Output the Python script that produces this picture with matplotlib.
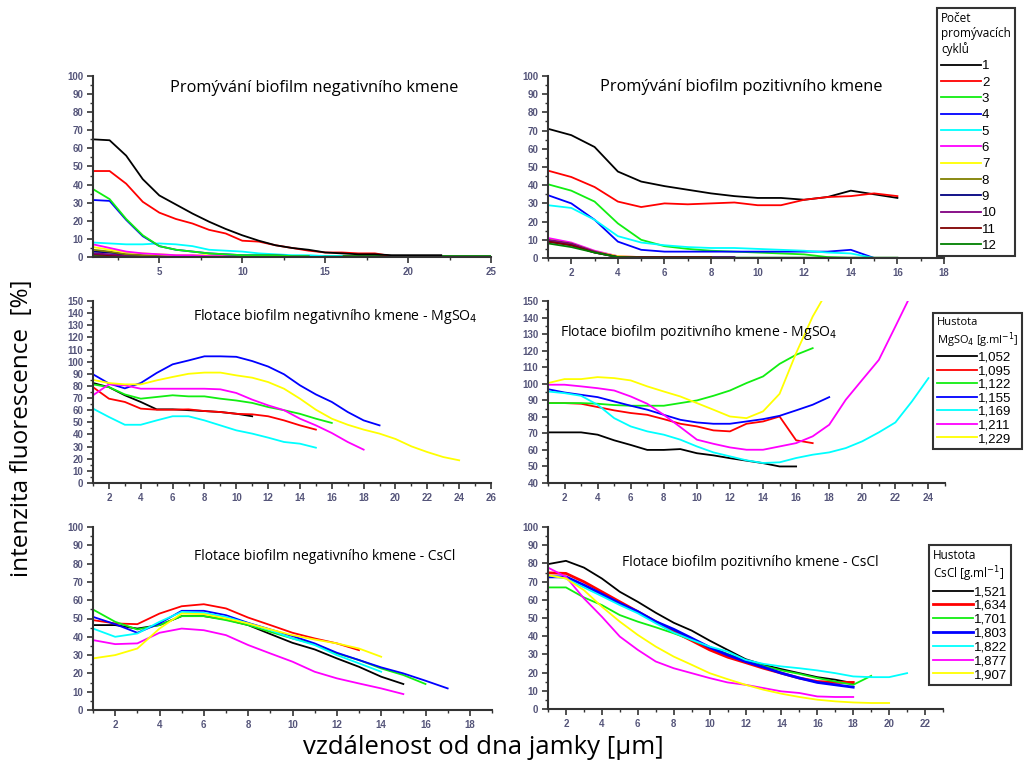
import matplotlib
matplotlib.use("Agg")
import matplotlib.pyplot as plt
from matplotlib.ticker import MultipleLocator

# ---------------- data ----------------
barvy_cykly = ['#000000', '#ff0000', '#11ee11', '#0000ff', '#00ffff', '#ff00ff',
               '#ffff00', '#808000', '#000080', '#800080', '#800000', '#008000']
cykly = ['1', '2', '3', '4', '5', '6', '7', '8', '9', '10', '11', '12']

# promyvani - negativni kmen (x = 1, 2, 3, ...)
neg_c1 = [65, 64.5, 56, 43, 34, 29, 24, 19.5, 15.5, 12, 9, 6.5, 5, 4, 2.5, 2, 1.5, 1.5, 1, 1, 1, 1]
neg_c2 = [47.5, 47.5, 40.5, 30.5, 24.5, 21, 18.5, 15, 13, 9, 8.5, 6.5, 5, 3.5, 2.5, 2.5, 2, 2, 0.5, 0.5]
neg_c3 = [37.5, 32, 21, 12, 6, 4, 3, 2, 1.5, 1, 1, 1, 0.5, 0.5]
neg_c4 = [31.5, 31, 20.5, 11.5, 6, 4, 3, 2, 1.5, 1, 1, 1, 0.5, 0.5]
neg_c5 = [8, 7.5, 7, 7, 7.5, 7, 6, 4, 3.5, 3, 2, 1.5, 1, 1, 0.5, 0.5]
neg_c6 = [7, 5, 3, 2, 1.5, 1, 1, 0.5, 0.5, 0.5, 0.5, 0.5, 0.5]
neg_c7 = [5.5, 4, 2.5, 2, 1.5, 1, 1, 1, 0.5, 0.5, 0.5, 0.5, 0.5, 0.5]
neg_c8 = [4, 3, 1.5, 1, 0.5, 0.5, 0.5, 0.5, 0.5, 0.5]
neg_c9 = [3, 2.5, 1.5, 1, 0.5, 0.5, 0.5, 0.5, 0.5, 0.5, 0.5, 0.5]
neg_c10 = [2, 1.5, 1, 0.5, 0.5, 0.5, 0.5, 0.5, 0.5, 0.5, 0.5, 0.5, 0.5, 0.5]
neg_c11 = [1.5, 1, 0.5, 0.3, 0.3, 0.3, 0.3, 0.3, 0.3, 0.3]
neg_c12 = [0.5, 0.5, 0.5, 0.5, 0.5, 0.5, 0.5, 0.5, 0.5, 0.5, 0.5, 0.5, 0.5, 0.5, 0.5, 0.5,
           0.5, 0.5, 0.5, 0.5, 0.5, 0.5, 0.5, 0.5, 0.5]

# promyvani - pozitivni kmen
pos_c1 = [71, 67.5, 61, 47.5, 42, 39.5, 37.5, 35.5, 34, 33, 33, 32, 33.5, 37, 35, 33]
pos_c2 = [48, 44.5, 39, 31, 28, 30, 29.5, 30, 30.5, 29, 29, 32, 33.5, 34, 35.5, 34]
pos_c3 = [40.5, 37, 31, 19, 10, 6.5, 5, 4, 3.5, 3, 2.5, 2, 0.5, 0, 0, 0]
pos_c4 = [34.5, 30, 21, 9, 4.5, 3.5, 3.5, 3.5, 3.5, 3.5, 3.5, 3.5, 3.5, 4.5, 0]
pos_c5 = [29, 27.5, 21, 12, 8.5, 7, 6, 5.5, 5.5, 5, 4.5, 4, 3, 2.5, 0]
pos_c6 = [11, 8.5, 4, 1, 0.5, 0.5, 0.5, 0.5]
pos_c7 = [10, 8, 3.5, 1, 0.5, 0.5, 0.5]
pos_c8 = [9.5, 7.5, 3.5, 0.5, 0.5, 0.5]
pos_c9 = [9, 7, 3, 0.5, 0.5, 0.5, 0.5, 0.5, 0.5]
pos_c10 = [10, 8, 3.5, 0.5, 0.5, 0.5, 0.5, 0.5, 0.5]
pos_c11 = [9, 7, 3, 0.5, 0.5, 0.5, 0.5, 0.5]
pos_c12 = [8, 6, 3, 0.5, 0.2, 0.2, 0.2, 0.2, 0.2, 0.2, 0.2, 0.2, 0.2, 0.2, 0.2, 0.2]

barvy_hustota = ['#000000', '#ff0000', '#11ee11', '#0000ff', '#00ffff', '#ff00ff', '#ffff00']
hustota_mgso4 = ['1,052', '1,095', '1,122', '1,155', '1,169', '1,211', '1,229']
hustota_cscl = ['1,521', '1,634', '1,701', '1,803', '1,822', '1,877', '1,907']

# flotace MgSO4 - negativni kmen
negMg_1 = [82.4, 79, 72.3, 66.8, 60.7, 60.7, 60, 59.3, 58.5, 57.1, 55]
negMg_2 = [79, 69.5, 66.8, 61.3, 60.4, 60.4, 60.7, 59.3, 58.5, 57, 56.6, 55, 51.6, 47.5, 44]
negMg_3 = [81.3, 79, 73, 69.5, 70.9, 72.3, 71.4, 71.4, 69.5, 68, 66, 62.6, 60, 57, 53, 49.5]
negMg_4 = [89.6, 82, 78, 82.4, 90.7, 97.8, 101, 104.4, 104.4, 104, 100.5, 96, 89.6, 80.5,
           73, 66.8, 58.5, 51.6, 47.5]
negMg_5 = [61.3, 54.4, 48, 48, 51.6, 55, 55, 51.6, 47.5, 43.4, 40.7, 37.4, 33.8, 32.4, 29.1]
negMg_6 = [72.3, 81.3, 80.5, 77.7, 77.7, 77.7, 77.7, 77.7, 77.2, 74.2, 68.7, 64, 60, 53,
           47.5, 41.2, 33.8, 27.5]
negMg_7 = [85, 82.4, 81.3, 81.3, 84.6, 87.4, 90, 91, 91, 88.7, 86.8, 83.2, 77.7, 69.5,
           60.4, 53, 48, 44, 40.7, 36.3, 30.2, 25.5, 21.4, 18.7]

# flotace MgSO4 - pozitivni kmen
posMg_1 = [70.6, 70.6, 70.6, 69.2, 65.8, 63, 60, 60, 60.5, 58, 56.7, 55, 53.5, 52, 50, 50]
posMg_2 = [88.3, 88.3, 87.9, 85.9, 83.9, 82.3, 81.2, 78.6, 75.8, 74.2, 71.8, 71.2, 75.8,
           77.2, 80.2, 65.8, 64.1]
posMg_3 = [88.3, 88.3, 88.3, 87.9, 87.1, 86.7, 86.7, 86.7, 88.3, 89.9, 92.7, 95.9, 100.4,
           104.4, 112, 117.5, 121.5]
posMg_4 = [96.7, 94.7, 93.3, 91.9, 89.3, 86.7, 84.3, 81.2, 78.2, 76.6, 75.8, 75.8, 77.2,
           78.6, 80.6, 83.9, 87.3, 91.9]
posMg_5 = [95.3, 94.3, 92.7, 87.3, 79.2, 74.2, 71.2, 69.2, 66.2, 62.1, 58.5, 56.1, 53.7,
           52.1, 52.5, 55.1, 57.1, 58.5, 61.1, 65.2, 70.6, 76.6, 89.3, 103.4]
posMg_6 = [99.4, 99.4, 98.4, 97.3, 95.9, 92.3, 87.9, 81.2, 73.8, 66.2, 63.7, 61.5, 60.1,
           60.1, 62.1, 64.1, 68.2, 75.2, 90.3, 102.4, 114.4, 134.6, 155]
posMg_7 = [100.4, 102.8, 102.8, 104, 103.4, 102, 98.4, 95.3, 92.3, 88.3, 84.3, 80.2, 79.2,
           83.3, 93.9, 118.5, 140.6, 158]

# flotace CsCl - negativni kmen
negCs_1 = [46.4, 46.4, 44.5, 46.4, 51.3, 51.3, 49.5, 46.4, 41.5, 36.7, 33.1, 28.2, 23.6, 18.2, 14.2]
negCs_2 = [49.1, 47.3, 46.9, 52.7, 56.7, 57.8, 55.5, 50.5, 46.4, 42.2, 39.1, 36.4, 32.7]
negCs_3 = [54.9, 48.2, 44, 46.4, 51.3, 51.3, 49.1, 46.4, 42.7, 39.1, 36, 30.9, 27.3, 22.7,
           19.1, 14.2]
negCs_4 = [50.9, 46.9, 42.2, 47.3, 54.2, 54.2, 51.8, 47.6, 44, 40.4, 36.4, 31.3, 27.3, 23.3,
           20, 16, 11.8]
negCs_5 = [44.5, 40, 41.8, 48.2, 53.6, 53.1, 50.9, 47.3, 43.6, 39.1, 35.5, 30, 25.5, 20.9]
negCs_6 = [38.2, 36, 36.4, 42.2, 44.5, 43.6, 40.9, 35.5, 30.9, 26.4, 20.9, 17.3, 14.5, 11.8, 8.7]
negCs_7 = [28.2, 30, 33.6, 44.5, 52.7, 52.4, 50, 47.3, 44, 40.9, 38.5, 36.4, 33.6, 29.1]

# flotace CsCl - pozitivni kmen
posCs_1 = [79.6, 81.4, 77.7, 71.7, 64.4, 58.9, 52.9, 47.4, 43.1, 37.6, 32.5, 27.4, 24.3,
           21.9, 19.7, 17.5, 16.1, 14.2]
posCs_2 = [74.8, 74.5, 69.9, 64.4, 58.9, 53.5, 48, 42.5, 37.6, 32.5, 28.5, 25.5, 22.4,
           19.7, 17, 15.1, 14.6, 14.6]
posCs_3 = [66.8, 66.8, 61.3, 57.1, 51.6, 48, 44.9, 41.6, 38, 33.9, 30.3, 26.6, 23.7, 21.2,
           19.3, 17, 15.1, 13.3, 18.2]
posCs_4 = [72.6, 72.6, 68.1, 63.1, 58, 53.5, 48, 43.8, 38.9, 33.9, 29.7, 26.1, 23, 19.7,
           17, 14.6, 13.3, 12]
posCs_5 = [73.5, 71.7, 66.8, 62, 57.1, 52.6, 47.1, 42, 38, 34.3, 31.6, 27, 24.8, 23.4,
           22.4, 21.2, 19.7, 17.9, 17.5, 17.5, 19.7]
posCs_6 = [77.7, 72.6, 60.8, 50.7, 39.8, 32.5, 26.1, 22.4, 19.7, 17, 14.6, 13.3, 11.5, 9.7,
           8.8, 6.9, 6.6, 6.6]
posCs_7 = [73.5, 71.7, 65.3, 56.2, 48, 40.7, 34.3, 28.8, 24.3, 19.7, 16.4, 13.3, 10.6, 8.4,
           6.6, 5.1, 4.2, 3.6, 3.3, 3.3]

# ---------------- figure ----------------
W, H = 1025, 771
fig = plt.figure(figsize=(W / 100, H / 100), dpi=100)
font_txt = ['Open Sans', 'DejaVu Sans']
barva_tick = '#55557a'


def osa(left, top, right, bottom):
    # pozice v pixelech obrazku -> souradnice figure
    return fig.add_axes([left / W, 1 - bottom / H, (right - left) / W, (bottom - top) / H])


def uprav(ax, xlim, ylim, xmaj, ymaj):
    ax.set_xlim(xlim)
    ax.set_ylim(ylim)
    ax.xaxis.set_major_locator(MultipleLocator(xmaj))
    ax.xaxis.set_minor_locator(MultipleLocator(xmaj / 2))
    ax.yaxis.set_major_locator(MultipleLocator(ymaj))
    ax.yaxis.set_minor_locator(MultipleLocator(ymaj / 2))
    for s in ['top', 'right']:
        ax.spines[s].set_visible(False)
    for s in ['left', 'bottom']:
        ax.spines[s].set_linewidth(1.5)
        ax.spines[s].set_color('#333333')
    ax.tick_params(which='major', direction='out', length=4, width=1.2, color='#333333',
                   labelsize=7, labelcolor=barva_tick, pad=3)
    ax.tick_params(which='minor', direction='out', length=2.5, width=1, color='#333333')
    for lab in ax.get_xticklabels() + ax.get_yticklabels():
        lab.set_fontweight('bold')
        lab.set_family('Liberation Sans')
    ax.patch.set_alpha(0)


def kresli(ax, serie, barvy, lw=1.3):
    car = []
    for y, c in zip(serie, barvy):
        x = list(range(1, len(y) + 1))
        car.append(ax.plot(x, y, '-', color=c, lw=lw)[0])
    return car


ax1 = osa(93, 76, 491, 257)
# nejdriv spodni krivky, cerna navrchu
neg_vse = [neg_c1, neg_c2, neg_c3, neg_c4, neg_c5, neg_c6, neg_c7, neg_c8,
           neg_c9, neg_c10, neg_c11, neg_c12]
kresli(ax1, neg_vse[::-1], barvy_cykly[::-1])
uprav(ax1, (1, 25), (0, 100), 5, 10)

ax2 = osa(548, 76, 944, 258)
car2 = kresli(ax2, [pos_c1, pos_c2, pos_c3, pos_c4, pos_c5, pos_c6, pos_c7, pos_c8,
                    pos_c9, pos_c10, pos_c11, pos_c12], barvy_cykly)
uprav(ax2, (1, 18), (0, 100), 2, 10)

ax3 = osa(93, 301, 491, 483)
kresli(ax3, [negMg_1, negMg_2, negMg_3, negMg_4, negMg_5, negMg_6, negMg_7], barvy_hustota)
uprav(ax3, (1, 26), (0, 150), 2, 10)

ax4 = osa(548, 301, 945, 483)
car4 = kresli(ax4, [posMg_1, posMg_2, posMg_3, posMg_4, posMg_5, posMg_6, posMg_7], barvy_hustota)
uprav(ax4, (1, 25), (40, 150), 2, 10)

ax5 = osa(93, 527, 492, 710)
kresli(ax5, [negCs_1, negCs_2, negCs_3, negCs_4, negCs_5, negCs_6, negCs_7], barvy_hustota)
uprav(ax5, (1, 19), (0, 100), 2, 10)

ax6 = osa(548, 527, 943, 709)
car6 = kresli(ax6, [posCs_1, posCs_2, posCs_3, posCs_4, posCs_5, posCs_6, posCs_7], barvy_hustota)
car6[1].set_linewidth(2)
car6[3].set_linewidth(2)
uprav(ax6, (1, 23), (0, 100), 2, 10)

# nadpisy grafu
fig.text(314 / W, 1 - 88 / H, 'Promývání biofilm negativního kmene', ha='center', va='center',
         fontsize=11.8, family=font_txt)
fig.text(741 / W, 1 - 87 / H, 'Promývání biofilm pozitivního kmene', ha='center', va='center',
         fontsize=11.8, family=font_txt)
fig.text(335 / W, 1 - 317 / H, 'Flotace biofilm negativního kmene - MgSO$_4$', ha='center',
         va='center', fontsize=10.2, family=font_txt)
fig.text(699 / W, 1 - 333 / H, 'Flotace biofilm pozitivního kmene - MgSO$_4$', ha='center',
         va='center', fontsize=10.1, family=font_txt)
fig.text(325 / W, 1 - 557 / H, 'Flotace biofilm negativního kmene - CsCl', ha='center',
         va='center', fontsize=10, family=font_txt)
fig.text(750 / W, 1 - 562 / H, 'Flotace biofilm pozitivního kmene - CsCl', ha='center',
         va='center', fontsize=10, family=font_txt)

# popisky os
fig.text(22 / W, 1 - 428 / H, 'intenzita fluorescence  [%]', rotation=90, ha='center',
         va='center', fontsize=17.5, family=font_txt)
fig.text(483 / W, 1 - 748 / H, 'vzdálenost od dna jamky [µm]', ha='center', va='center',
         fontsize=18.5, family=font_txt)


# legendy
def legenda(car, popisky, titul, x, y, fs, tfs, mezera):
    leg = fig.legend(car, popisky, title=titul, loc='upper left', bbox_to_anchor=(x / W, 1 - y / H),
                     fontsize=fs, title_fontsize=tfs, handlelength=3, handletextpad=0.1,
                     labelspacing=mezera, borderpad=0.3, borderaxespad=0, fancybox=False,
                     framealpha=1, edgecolor='#333333')
    leg.get_frame().set_linewidth(1.5)
    leg._legend_box.align = 'left'
    leg.get_title().set_family(font_txt)
    for t in leg.get_texts():
        t.set_family('Liberation Sans')
    return leg


legenda(car2, cykly, 'Počet\npromývacích\ncyklů', 937, 8, 9.5, 8.5, 0.31)
legenda(car4, hustota_mgso4, 'Hustota\nMgSO$_4$ [g.ml$^{-1}$]', 933, 313, 9.5, 8, 0.1)
legenda(car6, hustota_cscl, 'Hustota\nCsCl [g.ml$^{-1}$]', 929, 545, 9.5, 8.5, 0.12)

fig.savefig('out.png', dpi=100)
